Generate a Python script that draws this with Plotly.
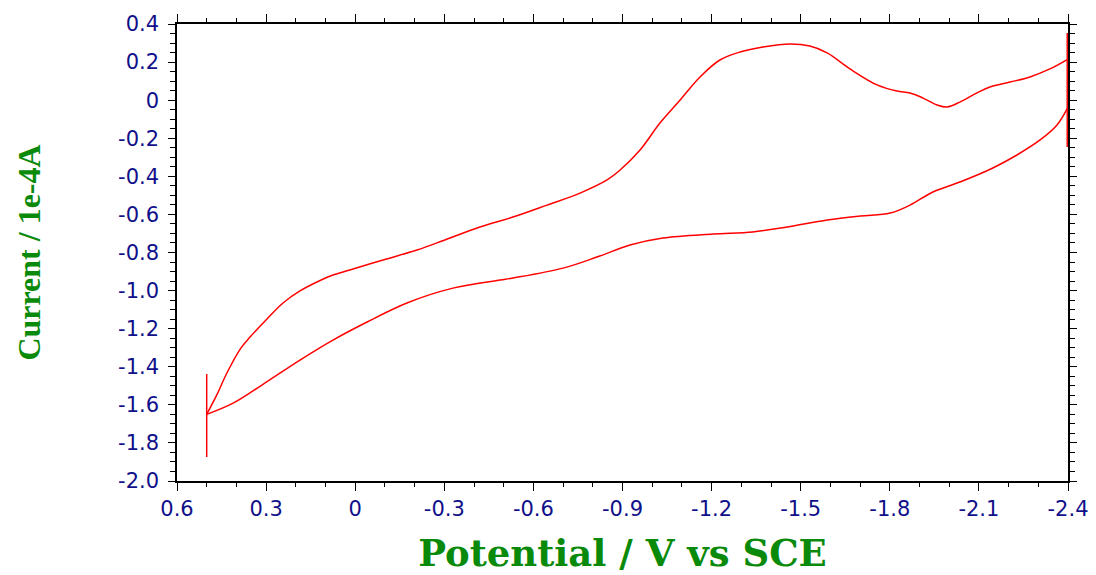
import plotly.graph_objects as go

# Cyclic voltammogram: scan from +0.5 V to -2.4 V and back
fwd_potential = [0.5, 0.411, 0.314, 0.186, 0.075, -0.040, -0.174, -0.329, -0.488, -0.531,
                 -0.700, -0.814, -0.925, -1.036, -1.205, -1.339, -1.454, -1.589, -1.700,
                 -1.801, -1.868, -1.945, -2.036, -2.147, -2.228, -2.306, -2.363, -2.4]
fwd_current = [-1.65, -1.591, -1.496, -1.365, -1.260, -1.165, -1.065, -0.987, -0.945, -0.934,
               -0.882, -0.824, -0.761, -0.724, -0.703, -0.692, -0.666, -0.629, -0.608,
               -0.593, -0.551, -0.482, -0.430, -0.356, -0.288, -0.209, -0.130, -0.036]

rev_potential = [-2.4, -2.339, -2.272, -2.205, -2.137, -2.094, -2.036, -1.993, -1.959, -1.912,
                 -1.868, -1.824, -1.757, -1.666, -1.589, -1.531, -1.464, -1.373, -1.296,
                 -1.228, -1.161, -1.094, -1.026, -0.959, -0.892, -0.848, -0.757, -0.646,
                 -0.531, -0.420, -0.302, -0.208, -0.094, 0.018, 0.075, 0.129, 0.186,
                 0.243, 0.297, 0.354, 0.385, 0.432, 0.466, 0.5]
rev_current = [0.216, 0.164, 0.122, 0.095, 0.069, 0.038, -0.010, -0.036, -0.025, 0.011,
               0.038, 0.048, 0.080, 0.164, 0.248, 0.284, 0.295, 0.279, 0.253,
               0.211, 0.122, 0.001, -0.120, -0.262, -0.367, -0.419, -0.488, -0.551,
               -0.614, -0.666, -0.734, -0.787, -0.839, -0.892, -0.918, -0.955, -1.002,
               -1.065, -1.149, -1.244, -1.302, -1.433, -1.548, -1.65]

# Vertical switching-potential markers
start_marker_x = [0.5, 0.5]
start_marker_y = [-1.438, -1.874]
end_marker_x = [-2.4, -2.4]
end_marker_y = [0.353, -0.246]

x_ticks = [0.6, 0.3, 0.0, -0.3, -0.6, -0.9, -1.2, -1.5, -1.8, -2.1, -2.4]
x_labels = ["0.6", "0.3", "0", "-0.3", "-0.6", "-0.9", "-1.2", "-1.5", "-1.8", "-2.1", "-2.4"]
y_ticks = [0.4, 0.2, 0.0, -0.2, -0.4, -0.6, -0.8, -1.0, -1.2, -1.4, -1.6, -1.8, -2.0]
y_labels = ["0.4", "0.2", "0", "-0.2", "-0.4", "-0.6", "-0.8", "-1.0", "-1.2", "-1.4",
            "-1.6", "-1.8", "-2.0"]

RED = "#ff0000"
NAVY = "#10108a"
GREEN = "#0a8a0a"

fig = go.Figure()
for bx, by in ((fwd_potential, fwd_current), (rev_potential, rev_current)):
    fig.add_trace(go.Scatter(x=bx, y=by, mode="lines",
                             line=dict(color=RED, width=1.5, shape="spline", smoothing=1.0),
                             hoverinfo="skip", showlegend=False))
fig.add_trace(go.Scatter(x=start_marker_x, y=start_marker_y, mode="lines",
                         line=dict(color=RED, width=1.5), hoverinfo="skip", showlegend=False))
# the end marker sits on the frame edge, so half of it is clipped away
fig.add_trace(go.Scatter(x=end_marker_x, y=end_marker_y, mode="lines",
                         line=dict(color=RED, width=3), hoverinfo="skip", showlegend=False))

axis_common = dict(showgrid=False, zeroline=False, showline=True, linecolor="black",
                   linewidth=1.5, mirror="ticks", ticks="outside", tickcolor="black",
                   tickwidth=1, tickfont=dict(family="DejaVu Sans", size=21, color=NAVY),
                   layer="below traces", automargin=False)

fig.update_layout(
    width=1096, height=575,
    margin=dict(l=177, r=28, t=24, b=94),
    paper_bgcolor="white", plot_bgcolor="white",
    xaxis=dict(axis_common, range=[0.6, -2.4], autorange=False,
               tickmode="array", tickvals=x_ticks, ticktext=x_labels, ticklen=8,
               minor=dict(tickmode="linear", tick0=0, dtick=0.1, ticks="outside",
                          ticklen=4, tickcolor="black"),
               title=dict(text="Potential / V vs SCE", standoff=31,
                          font=dict(family="DejaVu Serif", size=37, color=GREEN, weight="bold"))),
    yaxis=dict(axis_common, range=[-2.0, 0.4], autorange=False,
               tickmode="array", tickvals=y_ticks, ticktext=y_labels, ticklen=7,
               ticklabelstandoff=5,
               minor=dict(tickmode="linear", tick0=0, dtick=0.05, ticks="outside",
                          ticklen=5, tickcolor="black"),
               title=dict(text="Current / 1e-4A", standoff=68,
                          font=dict(family="Liberation Serif", size=32, color=GREEN, weight="bold"))),
)

fig.write_html("out.html")
